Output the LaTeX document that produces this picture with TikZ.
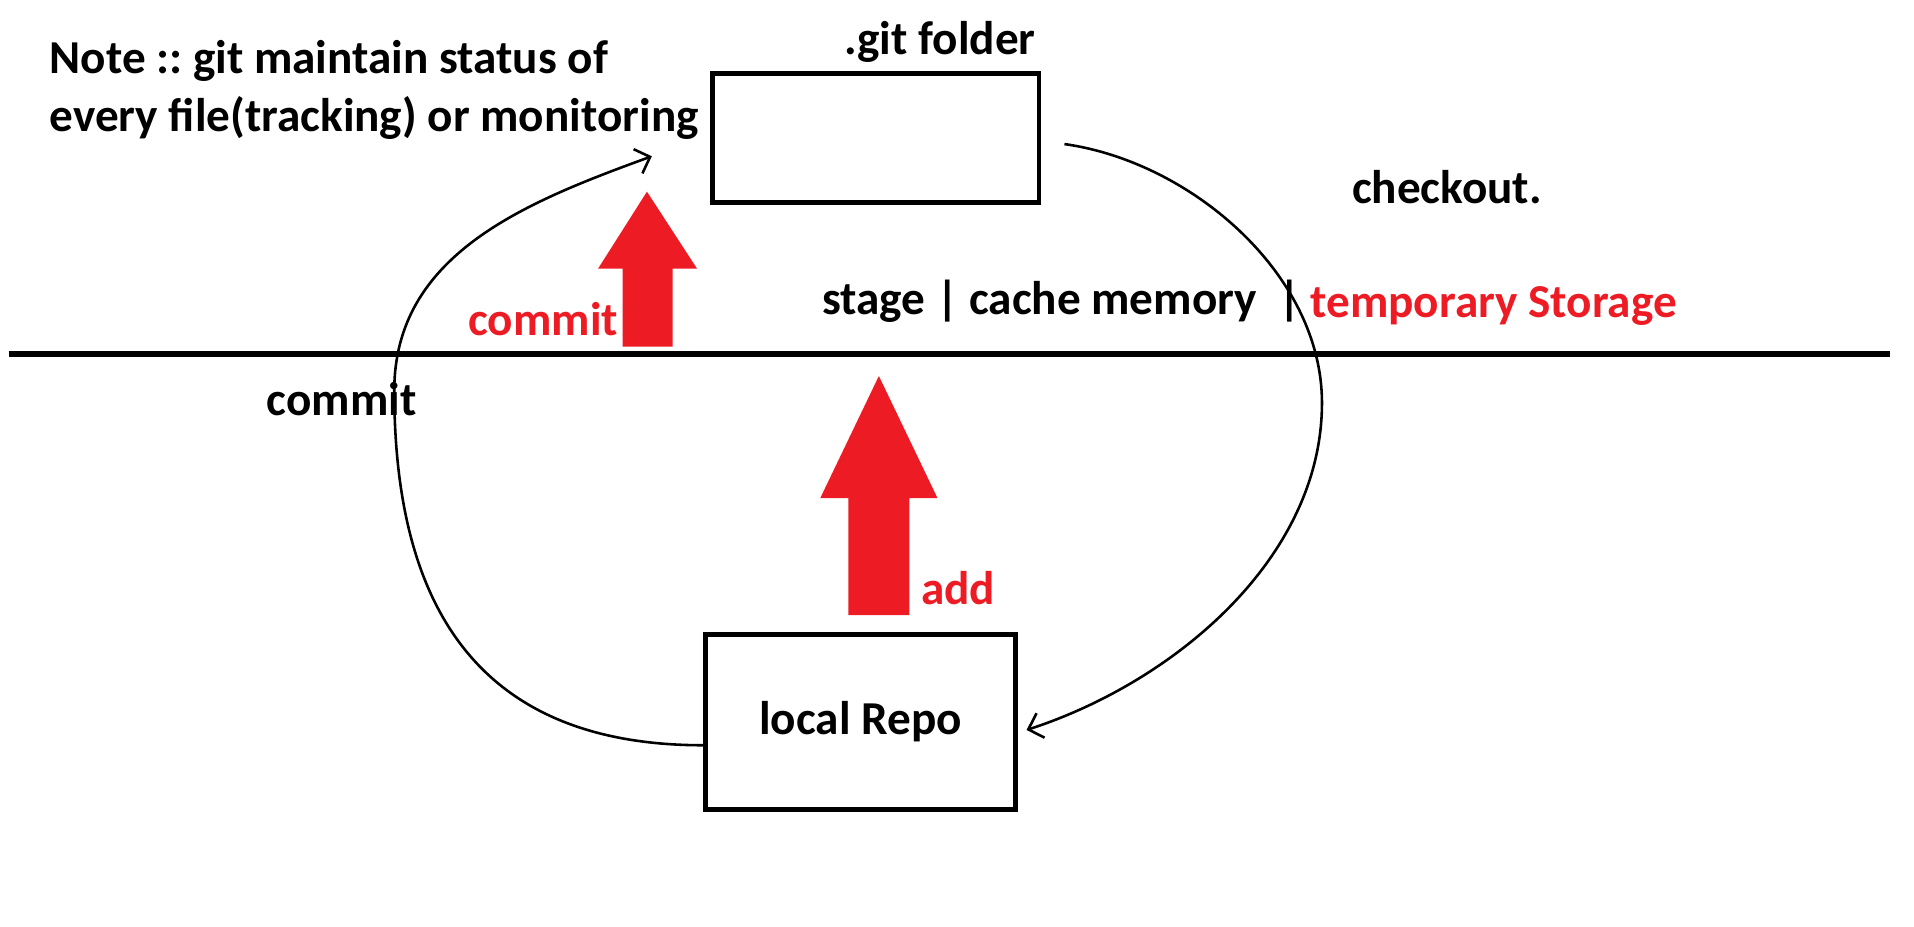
\documentclass[tikz,border=0pt]{standalone}
\usepackage{fontspec}
\setmainfont{Carlito}
\usetikzlibrary{arrows.meta}
\definecolor{paintred}{RGB}{237,28,36}
\frenchspacing
\tikzset{
  lbl/.style={font=\fontsize{11}{13}\selectfont\bfseries, inner sep=0pt, anchor=base west},
  box/.style={draw, line width=1.1pt, inner sep=0pt, font=\fontsize{11}{13}\selectfont\bfseries},
  flow/.style={line width=0.6pt, -{Straight Barb[length=3pt,width=6pt]}},
}
\begin{document}
\begin{tikzpicture}[x=0.01cm, y=-0.01cm]
      \useasboundingbox (0,0) rectangle (1568,759);
      \draw
        (717.5,113) node[box, minimum width=2.67cm, minimum height=1.06cm] (git){}
        (705,591.5) node[box, minimum width=2.54cm, minimum height=1.43cm] (repo){local Repo}
        (40,60) node[lbl] (note1){Note :: git maintain status of}
        (40,108) node[lbl] (note2){every file(tracking) or monitoring}
        (691,45) node[lbl] (gitlbl){.git folder}
        (1107,167) node[lbl] (checkout){checkout.}
        (673,258) node[lbl] (stage){stage | cache memory \ |}
        (1073,260) node[lbl, text=paintred] (temp){temporary Storage}
        (383,275) node[lbl, text=paintred] (commitup){commit}
        (218,340) node[lbl] (commitloop){commit}
        (754,495) node[lbl, text=paintred] (add){add};
      \draw[line width=1.2pt] (7,290) -- (1548,290);
      \fill[paintred] (510,284) -- (510,220) -- (490,220) -- (530,157) -- (571,220) -- (551,220) -- (551,284) -- cycle;
      \fill[paintred] (695,504) -- (695,408) -- (672,408) -- (720,308) -- (768,408) -- (745,408) -- (745,504) -- cycle;
      \coordinate (loopleft) at (323,320);
      \coordinate (committip) at (534,128);
      \coordinate (checkfrom) at (872,118);
      \coordinate (loopright) at (1083,330);
      \coordinate (checktip) at (841,598);
      \begin{scope}[flow]
        \draw ([yshift=-0.19cm]repo.west) to[out=180, in=270, looseness=1.2] (loopleft) to[out=90, in=200, looseness=1] (committip);
        \draw (checkfrom) to[out=-8, in=90, looseness=0.9] (loopright) to[out=270, in=18, looseness=0.9] (checktip);
      \end{scope}
    \end{tikzpicture}
\end{document}
